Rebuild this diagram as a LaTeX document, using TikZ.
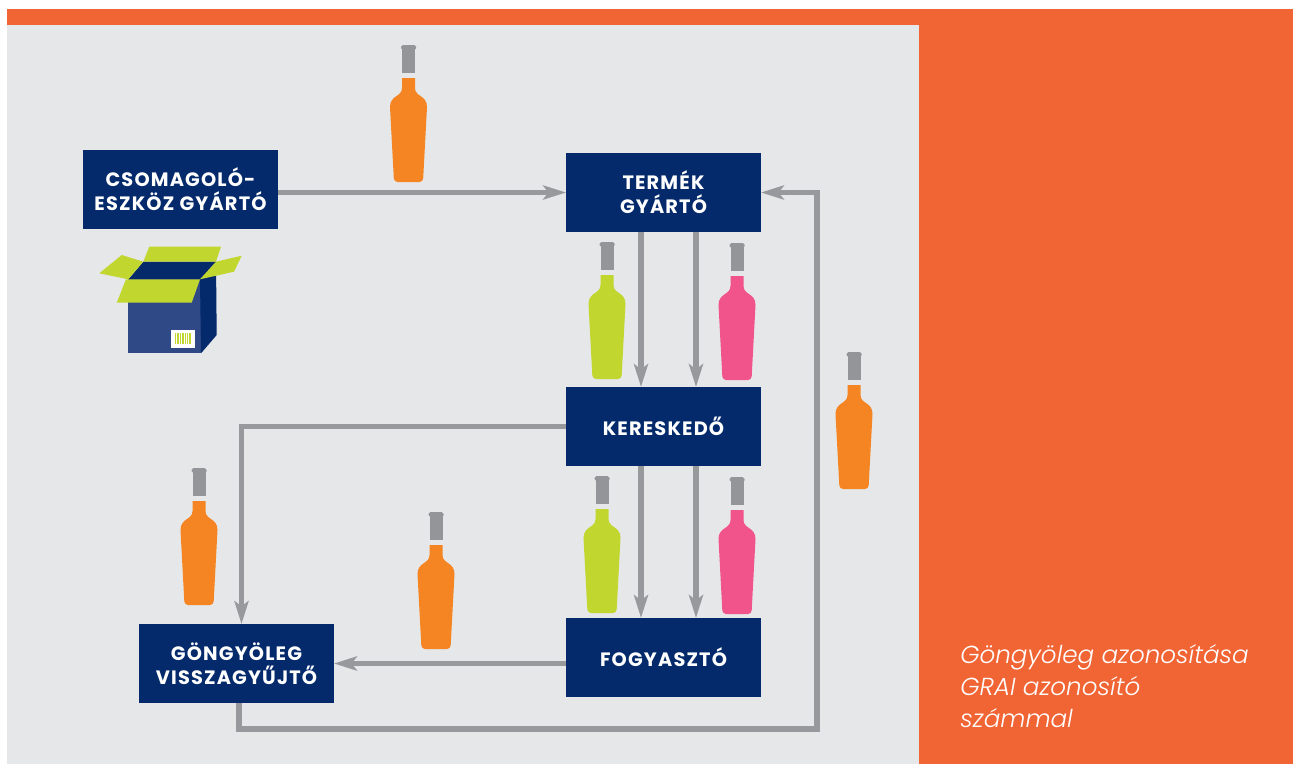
\documentclass[tikz,border=0pt]{standalone}
\usepackage{fontspec}
\setmainfont{Poppins}
\newfontfamily\notefont{Poppins Light}
\newfontfamily\actorfont{Poppins}[LetterSpace=6]
\usepackage{xcolor}
\usetikzlibrary{positioning,arrows.meta,calc}

\definecolor{bandorange}{RGB}{241,100,52}
\definecolor{panelgray}{RGB}{230,231,232}
\definecolor{navy}{RGB}{4,42,107}
\definecolor{boxfront}{RGB}{46,73,133}
\definecolor{flowgray}{RGB}{152,153,156}
\definecolor{capgray}{RGB}{147,149,152}
\definecolor{wineorange}{RGB}{245,133,34}
\definecolor{winegreen}{RGB}{194,214,48}
\definecolor{winepink}{RGB}{240,84,138}

\begin{document}
\begin{tikzpicture}[
        x=0.02cm, y=-0.02cm,
        node distance=3.1cm and 1cm,
        actor/.style={fill=navy, text=white, minimum width=3.9cm, minimum height=1.58cm, outer sep=0, align=center, font=\actorfont\bfseries\fontsize{11}{13.6}\selectfont},
        flow/.style={draw=flowgray, line width=3pt, -{Stealth[length=13pt, width=8pt, inset=3pt]}},
        pics/bottle/.style={code={
            \fill[capgray, rounded corners=1pt] (-7.5,0) rectangle (7.5,5);
            \fill[capgray] (-6.5,3) rectangle (6.5,28);
            \fill[#1] (-6.5,33) -- (-6.5,43) .. controls (-6.5,52) and (-18.5,50) .. (-18.5,62)
                [rounded corners=2pt] -- (-14.5,137) -- (14.5,137) [sharp corners]
                -- (18.5,62) .. controls (18.5,50) and (6.5,52) .. (6.5,43) -- (6.5,33) -- cycle;
        }},
    ]
        \useasboundingbox (0,0) rectangle (1293,764);
        \fill[bandorange] (7,9) rectangle (1293,764);
        \fill[panelgray] (7,25) rectangle (919,764);

        % actors
        \node [actor] (csomag) at (180.5,189.5) {CSOMAGOLÓ-\\ESZKÖZ GYÁRTÓ};
        \node [actor] (termek) at (663.5,192.5) {TERMÉK\\GYÁRTÓ};
        \node [actor, below=3.1cm of termek] (keresk) {KERESKEDŐ};
        \node [actor, below=3.04cm of keresk] (fogy) {FOGYASZTÓ};
        \node [actor] (gongy) at (236.5,663.5) {GÖNGYÖLEG\\VISSZAGYŰJTŐ};
        \coordinate (loopcorner) at (817,729);

        % flows
        \draw [flow] (termek.west -| csomag.east) -- (termek.west);
        \draw [flow] ([xshift=-0.45cm]termek.south) -- ([xshift=-0.45cm]keresk.north);
        \draw [flow] ([xshift=0.65cm]termek.south) -- ([xshift=0.65cm]keresk.north);
        \draw [flow] ([xshift=-0.45cm]keresk.south) -- ([xshift=-0.45cm]fogy.north);
        \draw [flow] ([xshift=0.65cm]keresk.south) -- ([xshift=0.65cm]fogy.north);
        \draw [flow] (keresk.west) -| ([xshift=0.1cm]gongy.north);
        \draw [flow] (gongy.east -| fogy.west) -- (gongy.east);
        \draw [flow] ([xshift=0.05cm]gongy.south) |- (loopcorner) |- (termek.east);

        % bottles
        \pic at (408.5,45) {bottle=wineorange};
        \pic at (607,242) {bottle=winegreen};
        \pic at (737,243) {bottle=winepink};
        \pic at (602,476) {bottle=winegreen};
        \pic at (737,477) {bottle=winepink};
        \pic at (199,468) {bottle=wineorange};
        \pic at (436,512) {bottle=wineorange};
        \pic at (854,352) {bottle=wineorange};

        % open box
        \fill[boxfront] (127.7,279.3) rectangle (201,353.3);
        \fill[navy] (200,279.3) -- (216,261.7) -- (216.7,335) -- (201,353.3) -- cycle;
        \fill[navy] (128.3,279.3) -- (200,279.3) -- (216,261.7) -- (143.3,261.7) -- cycle;
        \fill[winegreen] (143.3,261.7) -- (216,261.7) -- (221,246.7) -- (149.3,246.7) -- cycle;
        \fill[winegreen] (128.3,279.3) -- (143.3,261.7) -- (121.7,255) -- (99.3,273.3) -- cycle;
        \fill[winegreen] (200,279.3) -- (216,261.7) -- (241.7,255.7) -- (234,271.7) -- cycle;
        \fill[winegreen] (126,279.3) -- (200,279.3) -- (191.7,302.7) -- (116.7,302.7) -- cycle;
        \fill[white] (171,330) rectangle (195,347.7);
        \foreach \i in {0,...,6}
            \fill[winegreen] (175+\i*2.4,332.7) rectangle ++(1.3,11.3);

        \node [anchor=base west, text=white, align=left, inner sep=0, font=\notefont\itshape\fontsize{14}{18}\selectfont] (note) at (960,727) {Göngyöleg azonosítása\\GRAI azonosító\\számmal};
    \end{tikzpicture}
\end{document}
